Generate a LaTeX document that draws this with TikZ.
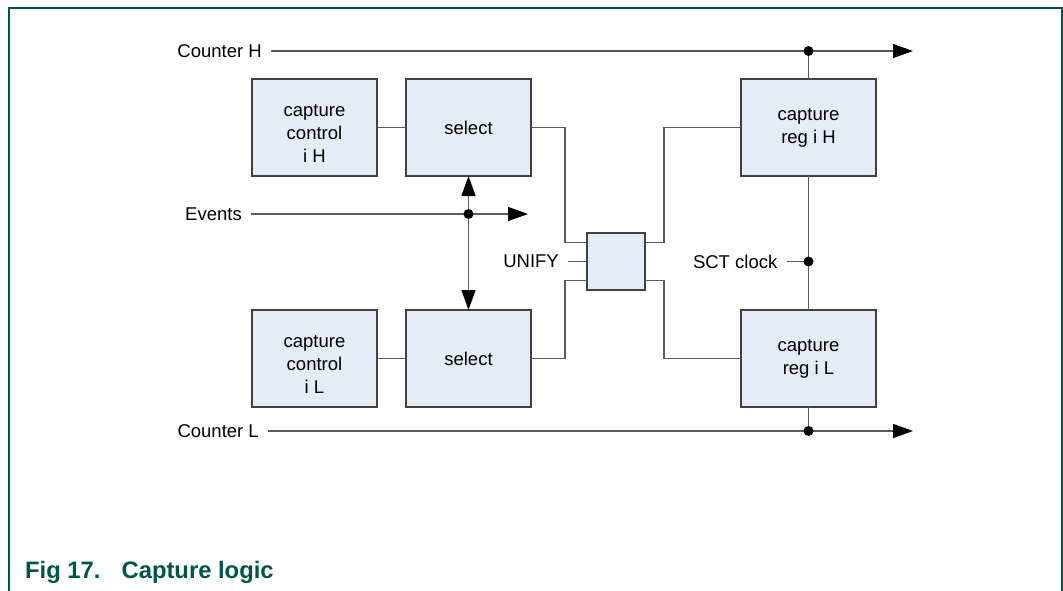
\documentclass[tikz,border=0pt]{standalone}
\usepackage{fontspec}
\setmainfont{Liberation Sans}
\usetikzlibrary{arrows.meta, positioning}

\definecolor{boxfill}{RGB}{230,236,245}
\definecolor{wiregray}{RGB}{90,90,90}
\definecolor{nxpgreen}{RGB}{0,86,70}

\tikzset{
  block/.style={draw=black!75, line width=1.3pt, fill=boxfill, inner sep=0pt, outer sep=0pt,
    align=center, minimum height=97pt},
  wire/.style={draw=wiregray, line width=1.3pt},
  sig/.style={inner xsep=9pt, inner ysep=0pt}
}

\begin{document}
\begin{tikzpicture}[x=1pt, y=-1pt, >={Triangle[length=20pt,width=14pt,black]},
  font=\fontsize{18.5}{23}\selectfont]
\useasboundingbox (0,0) rectangle (1063,590);

% frame and caption
\draw[nxpgreen, line width=2pt] (9,594) |- (1061.5,8) -- (1061.5,594);
\node[anchor=base west, inner sep=0pt, text=nxpgreen,
  font=\fontsize{23.8}{28}\selectfont\bfseries] (caption) at (25,578) {Fig 17.\hspace{21pt}Capture logic};

% blocks
\node[block, minimum width=125pt] (ctrlH) at (314.5,127.5) {\rule{0pt}{24pt}capture\\control\\i H};
\node[block, minimum width=125pt, right=29pt of ctrlH] (selH) {select};
\node[block, minimum width=125pt, below=134pt of ctrlH] (ctrlL) {\rule{0pt}{24pt}capture\\control\\i L};
\node[block, minimum width=125pt, right=29pt of ctrlL] (selL) {select};
\node[block, minimum width=135pt] (regH) at (808.5,127.5) {capture\\reg i H};
\node[block, minimum width=135pt, below=134pt of regH] (regL) {capture\\reg i L};
\node[block, minimum width=58pt, minimum height=57pt] (unify) at (616,261.5) {};

% signal labels
\node[sig, anchor=east] (cntH) at (271,51) {Counter H};
\coordinate (cntHout) at (913,51);
\node[sig, anchor=east] (cntL) at (268,431) {Counter L};
\coordinate (cntLout) at (913,431);
\node[sig, anchor=east] (events) at (251,214) {Events};
\coordinate (evout) at (528,214);
\node[sig, left=19pt of unify] (unifyin) {UNIFY};
\coordinate (clk) at (regH.south |- unify.center);
\node[sig, left=22pt of clk] (sct) {SCT clock};

% connections
\draw[wire, ->] (cntH) -- (cntHout);
\draw[wire, ->] (cntL) -- (cntLout);
\draw[wire, ->] (events) -- (evout);
\draw[wire, <->] (selH) -- (selL);
\draw[wire] (ctrlH) -- (selH);
\draw[wire] (ctrlL) -- (selL);
\draw[wire] (unifyin) -- (unify);
\draw[wire] (sct) -- (clk);
\draw[wire] (selH.east) -- ++(34,0) |- ([yshift=19pt]unify.west);
\draw[wire] (selL.east) -- ++(34,0) |- ([yshift=-19pt]unify.west);
\draw[wire] ([yshift=19pt]unify.east) -- ++(19,0) |- (regH.west);
\draw[wire] ([yshift=-19pt]unify.east) -- ++(19,0) |- (regL.west);
\draw[wire] (regH) -- (regL);
\draw[wire] (regH) -- (regH |- cntHout);
\draw[wire] (regL) -- (regL |- cntLout);

% junction dots
\foreach \j in {regH |- cntHout, regL |- cntLout, clk, selH |- evout}
  \fill (\j) circle (5pt);
\end{tikzpicture}
\end{document}
